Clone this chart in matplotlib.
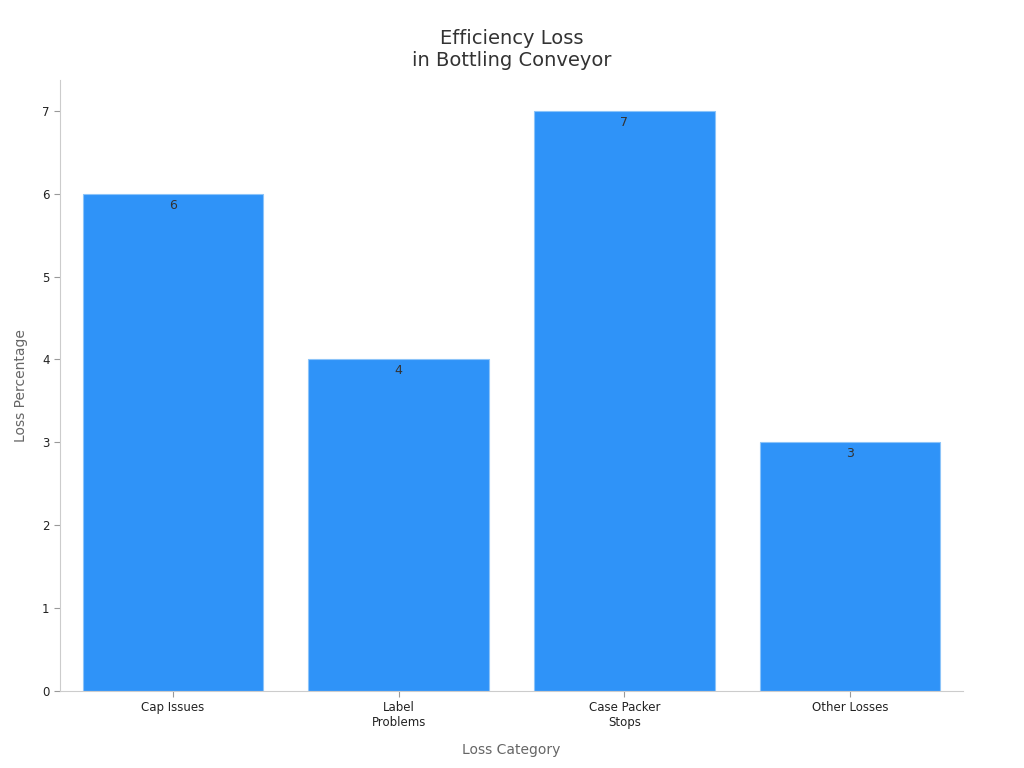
import matplotlib.pyplot as plt
import numpy as np

categories = ['Cap Issues', 'Label\nProblems', 'Case Packer\nStops', 'Other Losses']
losses = [6, 4, 7, 3]


def main():
    fig = plt.figure(figsize=(10.24, 7.68), dpi=100)
    ax = fig.add_axes([0.0586, 0.1003, 0.8818, 0.7953])

    x = np.arange(len(categories))
    bars = ax.bar(x, losses, width=0.8, color='#2f93f8',
                  edgecolor='#8cc4f9', linewidth=0.8)
    for b, v in zip(bars, losses):
        ax.text(b.get_x() + b.get_width() / 2, v - 0.06, f'{v}',
                ha='center', va='top', fontsize=9, color='#333333')

    ax.set_xlim(-0.5, 3.5)
    ax.set_ylim(0, 7.37)
    ax.set_xticks(x)
    ax.set_xticklabels(categories, fontsize=8.5, color='#222222')
    ax.set_yticks(range(8))
    ax.tick_params(axis='y', labelsize=8.5, labelcolor='#222222',
                   color='#999999', length=4)
    ax.tick_params(axis='x', color='#999999', length=4)

    for s in ['top', 'right']:
        ax.spines[s].set_visible(False)
    for s in ['left', 'bottom']:
        ax.spines[s].set_color('#cccccc')

    ax.set_xlabel('Loss Category', fontsize=10, color='#666666', labelpad=10)
    ax.set_ylabel('Loss Percentage', fontsize=10, color='#666666', labelpad=10)
    ax.set_title('Efficiency Loss\nin Bottling Conveyor', fontsize=14,
                 color='#333333', pad=10)

    fig.savefig('out.png', dpi=100)


main()
